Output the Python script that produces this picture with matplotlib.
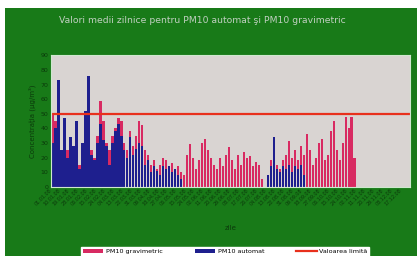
import matplotlib
matplotlib.use("Agg")
import matplotlib.pyplot as plt
from matplotlib.patches import Rectangle
import numpy as np
import pandas as pd

# valori medii pe intervale de 3 zile
pm10_gravimetric = [50, 45, 30, 20, 40, 25, 30, 20, 35, 15,
                    30, 45, 55, 25, 20, 35, 59, 45, 30, 25,
                    35, 40, 47, 45, 30, 25, 38, 28, 35, 45,
                    42, 25, 22, 15, 18, 12, 15, 20, 18, 14,
                    16, 12, 14, 10, 8, 22, 29, 20, 12, 18,
                    30, 33, 25, 20, 15, 12, 20, 14, 22, 27,
                    18, 12, 22, 15, 24, 20, 21, 14, 17, 15,
                    5, 0, 8, 18, 29, 15, 12, 18, 22, 31,
                    20, 25, 18, 28, 22, 36, 25, 15, 20, 30,
                    33, 18, 22, 38, 45, 25, 18, 30, 48, 40,
                    48, 20, 0, 0, 0, 0, 0, 0, 0, 0,
                    0, 0, 0, 0, 0, 0, 0, 0, 0, 0]
pm10_automat = [30, 40, 73, 25, 47, 20, 34, 28, 45, 12,
                30, 52, 76, 22, 18, 30, 43, 32, 28, 15,
                30, 38, 43, 35, 25, 20, 34, 22, 26, 30,
                28, 15, 18, 10, 14, 11, 8, 14, 12, 14,
                10, 12, 8, 5, 0, 0, 0, 0, 0, 0,
                0, 0, 0, 0, 0, 0, 0, 0, 0, 0,
                0, 0, 0, 0, 0, 0, 0, 0, 0, 0,
                0, 0, 8, 14, 34, 12, 10, 14, 12, 15,
                10, 14, 12, 15, 8, 0, 0, 0, 0, 0,
                0, 0, 0, 0, 0, 0, 0, 0, 0, 0,
                0, 0, 0, 0, 0, 0, 0, 0, 0, 0,
                0, 0, 0, 0, 0, 0, 0, 0, 0, 0]
valoare_limita = 50
zile = pd.date_range("2008-01-01", periods=len(pm10_automat), freq="3D").strftime("%d.%m.%y")

green = "#187a18"
fig = plt.figure(figsize=(4.17, 2.56), dpi=100)
fig.patch.set_facecolor("white")
fig.patches.append(Rectangle((5 / 417, 0), 412 / 417, 248 / 256, transform=fig.transFigure,
                             facecolor=green, edgecolor="none", zorder=-5))

ax = fig.add_axes([0.1223, 0.2707, 0.861, 0.513])
ax.set_facecolor("#d9d4d2")
x = np.arange(len(zile))
b1 = ax.bar(x, pm10_gravimetric, width=0.8, color="#d82a62")
b2 = ax.bar(x, pm10_automat, width=0.8, color="#1e1f8e")
l1 = ax.axhline(valoare_limita, color="#e8301c", lw=1.6)

ax.set_xlim(-0.5, len(zile) - 0.5)
ax.set_ylim(0, 90)
ax.set_yticks(range(0, 91, 10))
ax.tick_params(axis="y", labelsize=4.5, colors="#0b3a0b", length=0, pad=2)
ax.set_xticks(x[::3])
ax.set_xticklabels(zile[::3], rotation=45, ha="right", fontsize=3.5, color="#0b3a0b")
ax.tick_params(axis="x", length=0, pad=1)
for s in ax.spines.values():
    s.set_color("#cfe8cf")
    s.set_linewidth(0.8)

ax.set_ylabel("Concentraţia (µg/m³)", fontsize=5, color="#0b3a0b", labelpad=3)
ax.set_xlabel("zile", fontsize=5, color="#0b3a0b", labelpad=13)
fig.text(0.485, 0.92, "Valori medii zilnice pentru PM10 automat şi PM10 gravimetric",
         ha="center", va="center", fontsize=6.7, color="#c0d0c0")

leg = fig.legend([b1, b2, l1], ["PM10 gravimetric", "PM10 automat", "Valoarea limită"],
                 loc="lower center", bbox_to_anchor=(0.54, 0.0), ncol=3, fontsize=4.6,
                 frameon=True, fancybox=False, edgecolor="white", facecolor="white",
                 handlelength=3.2, handleheight=0.5, handletextpad=0.4,
                 columnspacing=5.0, borderpad=0.3, borderaxespad=0.0)
leg.get_frame().set_alpha(1)

fig.savefig("out.png", dpi=100, facecolor=fig.get_facecolor())
